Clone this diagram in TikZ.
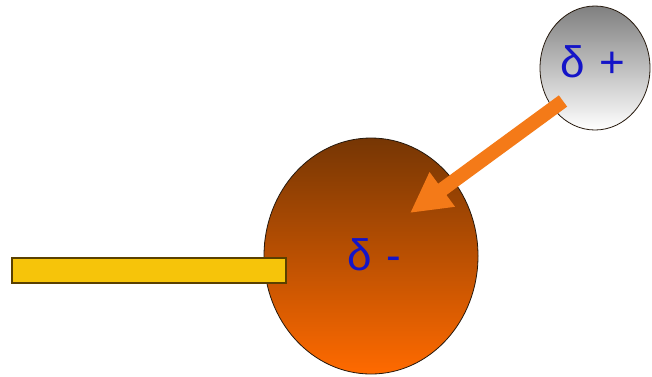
\documentclass[tikz,border=0pt]{standalone}
\usepackage{fontspec}
\setmainfont{Liberation Sans}
\usetikzlibrary{arrows.meta,shapes.geometric}

\definecolor{darkbrown}{RGB}{118,54,4}
\definecolor{brightorange}{RGB}{255,106,0}
\definecolor{arroworange}{RGB}{244,122,24}
\definecolor{barfill}{RGB}{246,196,10}
\definecolor{barline}{RGB}{90,64,0}
\definecolor{chargeblue}{RGB}{20,20,200}

\begin{document}
\begin{tikzpicture}[
        x=1pt, y=-1pt,
        charge/.style={font=\fontsize{44}{46}\selectfont, text=chargeblue, inner sep=0pt, anchor=base west},
        atom/.style={ellipse, draw=black!80!brown, line width=0.8pt, inner sep=0pt},
        arr/.style={-{Triangle[length=40pt,width=40pt]}, line width=14pt, draw=arroworange}
      ]
        \useasboundingbox[fill=white] (0,0) rectangle (652,376);
        \node[atom, minimum width=214pt, minimum height=236pt,
          top color=darkbrown, bottom color=brightorange] (neg) at (371,256) {};
        \node[charge] (negtext) at (347,270) {δ\hspace{15pt}-};
        \node[draw=barline, line width=1.2pt, fill=barfill, inner sep=0pt,
          minimum width=274pt, minimum height=25pt] (bar) at (149,270.5) {};
        \node[atom, minimum width=110pt, minimum height=124pt,
          shading angle=20, top color=black!50, bottom color=white] (pos) at (595,68) {};
        \node[charge] (postext) at (560,77) {δ\hspace{15pt}+};
        \coordinate (tail) at (563,101);
        \coordinate (tip) at (410,213);
        \draw[arr] (tail) -- (tip);
      \end{tikzpicture}
\end{document}
